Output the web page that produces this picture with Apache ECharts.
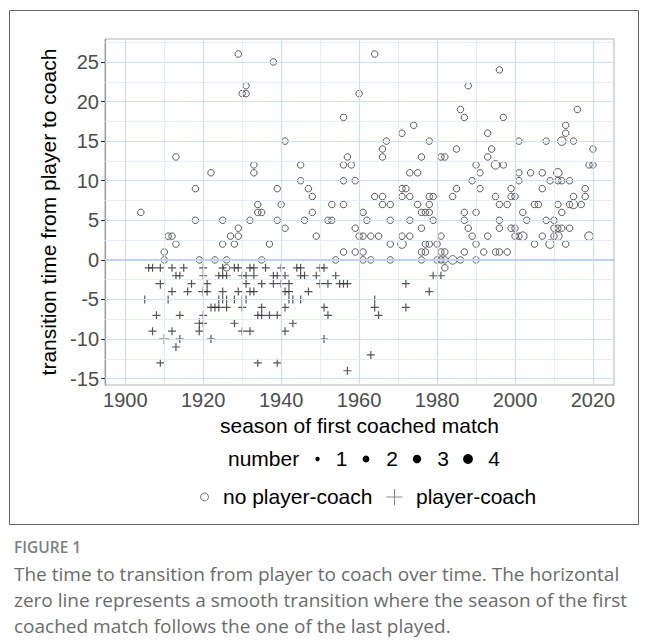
<!DOCTYPE html>
<html>
<head>
<meta charset="utf-8">
<script src="https://cdn.jsdelivr.net/npm/echarts@6/dist/echarts.min.js"></script>
<style>
html,body{margin:0;padding:0;background:#fff;}
#c{width:648px;height:643px;}
</style>
</head>
<body>
<div id="c"></div>
<script>
// [season of first coached match, transition time, number]
var noPlayerCoach = [
[1904,6,1],[1910,1,1],[1910,0,1],[1911,3,1],[1912,3,1],[1913,2,1],[1913,13,1],
[1918,9,1],[1918,5,1],[1919,0,1],[1922,11,1],[1923,0,1],[1925,5,1],[1925,2,1],
[1926,0,1],[1926,-1,1],[1927,3,1],[1928,2,1],
[1929,26,1],[1929,4,1],[1929,3,1],[1930,21,1],[1931,22,1],[1931,21,1],[1932,5,1],
[1933,12,1],[1933,11,1],[1934,7,1],[1934,6,1],[1935,6,1],[1935,0,1],[1937,2,1],
[1938,25,1],[1939,9,1],[1939,5,1],[1940,7,1],[1941,15,1],[1941,4,1],[1945,12,1],
[1945,10,1],[1946,5,1],[1947,9,1],[1948,8,1],[1948,6,1],[1949,3,1],[1952,5,1],
[1953,7,1],[1953,5,1],[1954,0,1],[1956,18,1],[1956,12,1],[1956,10,1],[1956,7,1],
[1956,1,1],[1957,13,1],[1958,12,1],
[1959,10,1],[1959,4,1],[1959,1,1],[1960,21,1],[1960,3,1],[1961,6,1],[1961,3,1],
[1961,1,1],[1961,0,1],[1962,5,1],[1963,3,1],[1963,0,1],[1964,26,1],[1964,8,1],
[1965,3,1],[1966,14,1],[1966,13,1],[1966,8,1],[1966,7,1],[1967,15,1],[1968,7,1],
[1968,5,1],[1968,2,1],[1968,0,1],[1971,16,1],[1971,9,1],[1971,8,1],[1971,3,1],
[1971,2,2],[1972,9,1],[1973,11,1],[1973,8,1],[1973,5,1],[1973,3,1],[1974,17,1],
[1975,11,1],[1975,7,1],[1976,13,1],[1976,6,1],[1976,4,1],[1976,1,1],[1976,0,1],
[1977,6,1],[1977,2,1],[1977,1,1],[1978,15,1],[1978,8,1],[1978,7,1],[1978,6,1],
[1978,2,1],[1979,8,1],[1979,5,1],[1980,2,1],[1980,0,1],[1981,13,1],[1981,3,1],
[1981,1,1],[1981,0,1],[1982,13,1],[1982,1,1],[1982,0,1],[1982,-1,1],[1984,8,1],
[1984,0,2],[1985,14,1],[1985,9,1],[1986,19,1],[1986,0,1],[1987,18,1],[1987,6,1],
[1987,5,1],[1987,1,1],[1988,22,1],[1988,4,1],[1989,10,1],[1989,3,1],[1990,12,1],
[1990,6,1],[1990,2,1],[1990,0,1],
[1991,11,1],[1991,9,1],[1992,1,1],[1993,16,1],[1993,13,1],[1993,3,1],[1994,14,1],
[1995,12,2],[1995,8,1],[1995,1,1],[1996,24,1],[1996,7,1],[1996,5,1],[1996,4,1],
[1996,1,1],[1997,18,1],[1997,12,1],[1998,7,1],[1998,1,1],[1999,9,1],[1999,8,1],
[1999,4,1],[2000,8,1],[2000,4,1],[2000,3,1],[2001,15,1],[2001,11,1],[2001,10,1],
[2001,3,1],[2002,6,1],[2002,3,2],[2003,5,1],[2004,11,1],[2005,7,1],[2005,2,1],
[2006,7,1],[2007,11,1],[2007,9,1],[2007,3,1],[2008,15,1],[2008,5,1],[2009,10,1],
[2009,2,2],[2010,5,1],[2010,4,1],[2010,3,1],[2011,11,2],[2011,10,1],[2011,7,1],
[2011,4,1],[2011,3,2],[2012,15,2],[2012,10,1],[2012,6,1],[2012,4,1],[2013,17,1],
[2013,16,1],[2013,2,1],[2014,10,1],[2014,7,1],[2014,4,1],[2015,15,1],[2015,8,1],
[2015,7,2],[2016,19,1],[2017,7,1],[2018,9,1],[2018,8,1],[2019,12,1],[2019,3,2],
[2020,14,1],[2020,12,1]
];
var playerCoach = [
[1906,-1,1],[1907,-1,1],[1909,-1,1],[1912,-1,1],[1915,-1,1],[1920,-1,1],[1925,-1,1],
[1928,-1,1],[1929,-1,1],[1932,-1,1],[1933,-1,1],[1936,-1,1],[1940,-1,1],[1944,-1,1],
[1945,-1,1],[1950,-1,1],[1951,-1,1],
[1913,-2,1],[1914,-2,1],[1920,-2,1],[1924,-2,1],[1925,-2,1],[1926,-2,1],[1930,-2,1],
[1931,-2,1],[1933,-2,1],[1938,-2,1],[1939,-2,1],[1941,-2,1],[1945,-2,1],[1946,-2,1],
[1949,-2,1],[1954,-2,1],[1979,-2,1],[1981,-2,1],
[1909,-3,2],[1917,-3,1],[1921,-3,1],[1931,-3,1],[1935,-3,1],[1938,-3,1],[1940,-3,1],
[1942,-3,1],[1950,-3,1],[1952,-3,1],[1955,-3,1],[1956,-3,1],[1957,-3,1],[1972,-3,1],
[1912,-4,1],[1916,-4,1],[1920,-4,2],[1921,-4,1],[1925,-4,1],[1929,-4,1],[1932,-4,1],
[1933,-4,1],[1941,-4,1],[1942,-4,1],[1947,-4,1],[1978,-4,1],
[1905,-5,1],[1911,-5,1],[1924,-5,1],[1925,-5,1],[1926,-5,1],[1928,-5,1],[1930,-5,1],
[1931,-5,1],[1942,-5,1],[1943,-5,1],[1945,-5,1],[1964,-5,1],
[1922,-6,1],[1923,-6,1],[1924,-6,1],[1926,-6,1],[1930,-6,1],[1935,-6,1],[1941,-6,1],
[1951,-6,1],[1964,-6,1],[1972,-6,1],
[1908,-7,1],[1914,-7,1],[1920,-7,1],[1934,-7,1],[1935,-7,1],[1937,-7,1],[1939,-7,1],
[1952,-7,1],[1965,-7,1],
[1919,-8,2],[1920,-8,1],[1928,-8,1],[1943,-8,1],
[1907,-9,1],[1912,-9,1],[1919,-9,1],[1930,-9,1],[1932,-9,1],[1941,-9,1],
[1910,-10,2],[1914,-10,1],[1922,-10,1],[1951,-10,1],
[1913,-11,1],[1963,-12,1],[1909,-13,1],[1934,-13,1],[1939,-13,1],[1957,-14,1]
];
var xTicks = [1900,1920,1940,1960,1980,2000,2020];
var yTicks = [-15,-10,-5,0,5,10,15,20,25];
var xGrid = [1900,1910,1920,1930,1940,1950,1960,1970,1980,1990,2000,2010,2020];
var yGrid = [-15,-12.5,-10,-7.5,-5,-2.5,2.5,5,7.5,10,12.5,15,17.5,20,22.5,25,27.5];
var legendNumbers = ['1','2','3','4'];

var circleSize = function(n){ return [6.5,8.5,10,11.5][n-1]; };
var crossSize = function(n){ return [8,10,11.5,13][n-1]; };

var gridLines = [];
xGrid.forEach(function(v){
  var major = v % 20 === 0;
  gridLines.push({xAxis:v, lineStyle:{color: major ? '#cfdef7' : '#e2ebfa', width: major ? 1.2 : 0.9, type:'solid'}});
});
yGrid.forEach(function(v){
  var major = v % 5 === 0;
  gridLines.push({yAxis:v, lineStyle:{color: major ? '#cfdef7' : '#e2ebfa', width: major ? 1.2 : 0.9, type:'solid'}});
});
gridLines.push({yAxis:0, lineStyle:{color:'#bcd1f3', width:2, type:'solid'}});

var textFont = "'Liberation Sans', Arial, sans-serif";
var capFont = "'Open Sans', sans-serif";
var chart = echarts.init(document.getElementById('c'), null, {renderer:'svg'});

var graphics = [
  {type:'rect', shape:{x:9.5,y:10.5,width:629,height:514}, style:{fill:'none', stroke:'#666', lineWidth:1}, silent:true},
  {type:'text', x:228, y:458, style:{text:'number', fontSize:21, fontFamily:textFont, fill:'#000', verticalAlign:'middle'}},
  {type:'circle', shape:{cx:317.5, cy:459, r:2.2}, style:{fill:'#000'}},
  {type:'text', x:341.5, y:458, style:{text:legendNumbers[0], fontSize:21, fontFamily:textFont, fill:'#000', align:'center', verticalAlign:'middle'}},
  {type:'circle', shape:{cx:366, cy:459, r:3.4}, style:{fill:'#000'}},
  {type:'text', x:392, y:458, style:{text:legendNumbers[1], fontSize:21, fontFamily:textFont, fill:'#000', align:'center', verticalAlign:'middle'}},
  {type:'circle', shape:{cx:417, cy:459, r:4.2}, style:{fill:'#000'}},
  {type:'text', x:443, y:458, style:{text:legendNumbers[2], fontSize:21, fontFamily:textFont, fill:'#000', align:'center', verticalAlign:'middle'}},
  {type:'circle', shape:{cx:468, cy:459, r:4.9}, style:{fill:'#000'}},
  {type:'text', x:494, y:458, style:{text:legendNumbers[3], fontSize:21, fontFamily:textFont, fill:'#000', align:'center', verticalAlign:'middle'}},
  {type:'circle', shape:{cx:204.5, cy:497, r:4}, style:{fill:'none', stroke:'#777', lineWidth:1}},
  {type:'text', x:223, y:496, style:{text:'no player-coach', fontSize:21, fontFamily:textFont, fill:'#000', verticalAlign:'middle'}},
  {type:'polyline', shape:{points:[[394.5,489],[394.5,505]]}, style:{stroke:'#888', lineWidth:1}},
  {type:'polyline', shape:{points:[[386.5,497],[402.5,497]]}, style:{stroke:'#888', lineWidth:1}},
  {type:'text', x:416, y:496, style:{text:'player-coach', fontSize:21, fontFamily:textFont, fill:'#000', verticalAlign:'middle'}},
  {type:'text', x:14, y:547, style:{text:'FIGURE 1', fontSize:15.5, fontWeight:600, fontFamily:capFont, fill:'#7f7f7f', verticalAlign:'middle'}},
  {type:'text', x:14, y:574, style:{text:'The time to transition from player to coach over time. The horizontal', fontSize:19, fontFamily:capFont, fill:'#6b6b6b', verticalAlign:'middle'}},
  {type:'text', x:14, y:600, style:{text:'zero line represents a smooth transition where the season of the first', fontSize:19, fontFamily:capFont, fill:'#6b6b6b', verticalAlign:'middle'}},
  {type:'text', x:14, y:626, style:{text:'coached match follows the one of the last played.', fontSize:19, fontFamily:capFont, fill:'#6b6b6b', verticalAlign:'middle'}}
];

chart.setOption({
  animation:false,
  backgroundColor:'#fff',
  grid:{left:105, top:39, right:34, bottom:258, show:true, borderColor:'#b5b5b5', borderWidth:1, backgroundColor:'#fff'},
  xAxis:{
    type:'value', min:1894.8, max:2025.4,
    name:'season of first coached match', nameLocation:'middle', nameGap:27,
    nameTextStyle:{fontSize:21, color:'#000', fontFamily:textFont},
    axisLine:{show:true, lineStyle:{color:'#9a9a9a', width:1.2}},
    axisTick:{show:true, length:4, lineStyle:{color:'#333'}, customValues:xTicks},
    axisLabel:{customValues:xTicks, fontSize:20, color:'#4d4d4d', fontFamily:textFont, margin:5,
               formatter:function(v){return String(v);}},
    splitLine:{show:false}
  },
  yAxis:{
    type:'value', min:-15.8, max:27.9,
    name:'transition time from player to coach', nameLocation:'middle', nameGap:40, nameRotate:90,
    nameTextStyle:{fontSize:21, color:'#000', fontFamily:textFont},
    axisLine:{show:true, lineStyle:{color:'#9a9a9a', width:1.2}},
    axisTick:{show:true, length:4, lineStyle:{color:'#333'}, customValues:yTicks},
    axisLabel:{customValues:yTicks, fontSize:20, color:'#4d4d4d', fontFamily:textFont, margin:6,
               formatter:function(v){return String(v);}},
    splitLine:{show:false}
  },
  graphic:graphics,
  series:[
    {type:'scatter', data:[], silent:true, z:1,
     markLine:{silent:true, symbol:['none','none'], label:{show:false}, animation:false, data:gridLines}},
    {type:'scatter', name:'no player-coach', z:3,
     data:noPlayerCoach.map(function(d){return [d[0],d[1],d[2]];}),
     symbol:'circle',
     symbolSize:function(v){return circleSize(v[2]);},
     itemStyle:{color:'rgba(0,0,0,0)', borderColor:'#333', borderWidth:1}},
    {type:'scatter', name:'player-coach', z:3,
     data:playerCoach.map(function(d){return [d[0],d[1],d[2]];}),
     symbol:'path://M5,0L5,10M0,5L10,5',
     symbolSize:function(v){return crossSize(v[2]);},
     itemStyle:{color:'none', borderColor:'#2b2b2b', borderWidth:1.2}}
  ]
});
</script>
</body>
</html>
